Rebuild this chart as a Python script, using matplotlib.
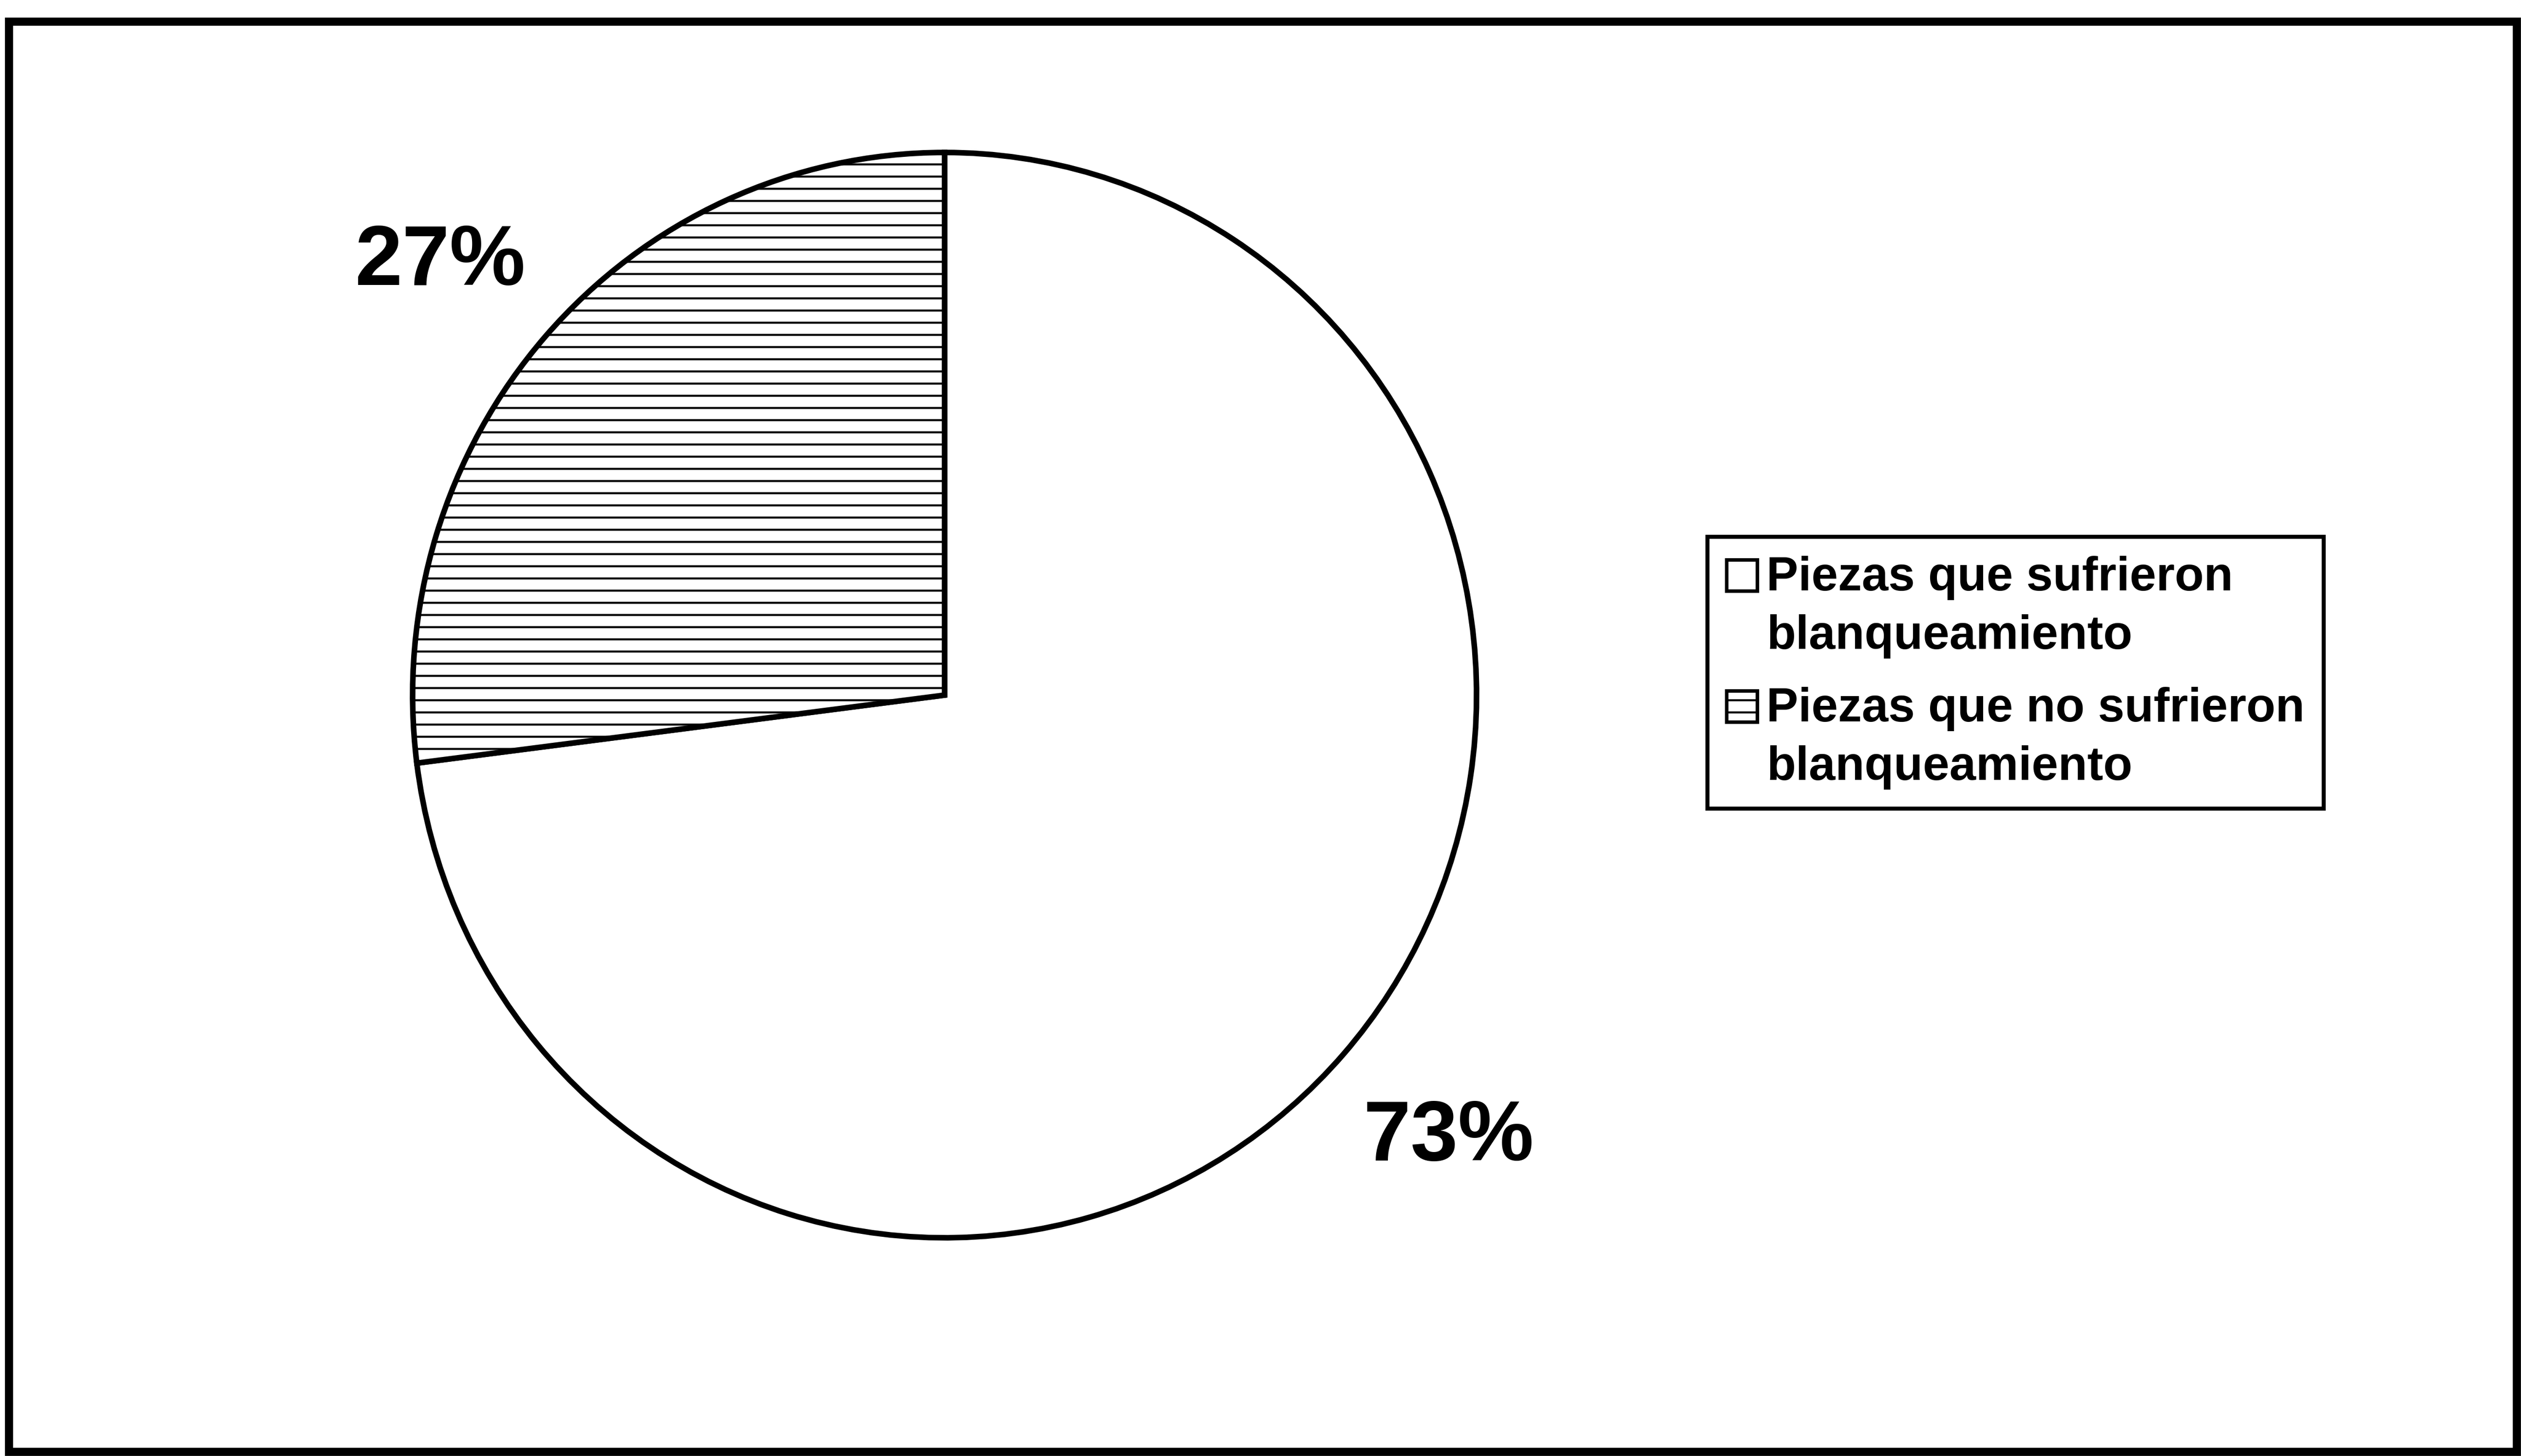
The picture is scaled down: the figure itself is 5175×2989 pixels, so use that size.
import matplotlib
matplotlib.use('Agg')
from matplotlib import pyplot as plt
from matplotlib.patches import Rectangle
from matplotlib.legend_handler import HandlerPatch

# datos del grafico
etiquetas = ['Piezas que sufrieron\nblanqueamiento',
             'Piezas que no sufrieron\nblanqueamiento']
porcentajes = [73, 27]
tramas = ['', '-']

plt.rcParams['font.family'] = ['Liberation Sans', 'DejaVu Sans']
plt.rcParams['font.weight'] = 'bold'
plt.rcParams['hatch.color'] = 'black'
plt.rcParams['hatch.linewidth'] = 2.0

W, H = 5175, 2989
dpi = 150
fig = plt.figure(figsize=(W / dpi, H / dpi), dpi=dpi)
fig.patch.set_facecolor('white')

# marco exterior
fig.add_artist(Rectangle((18 / W, 1 - 2980 / H), (5166 - 18) / W, (2980 - 44) / H,
                         transform=fig.transFigure, fill=False,
                         edgecolor='black', linewidth=8))

# ejes de la tarta (pixeles aproximados del original)
cx, cy, rx, ry = 1939, 1427, 1092, 1114
ax = fig.add_axes([(cx - rx) / W, 1 - (cy + ry) / H, 2 * rx / W, 2 * ry / H])

wedges, textos, pcts = ax.pie(porcentajes, startangle=90, counterclock=False,
                              colors=['white', 'white'],
                              wedgeprops=dict(edgecolor='black', linewidth=5.5),
                              autopct='%.0f%%', pctdistance=1.25,
                              textprops=dict(fontsize=84, fontweight='bold'))
for w, t in zip(wedges, tramas):
    w.set_hatch(t)

# pequenos ajustes de posicion de las etiquetas
x0, y0 = pcts[1].get_position()
pcts[1].set_position((x0 - 0.01, y0 - 0.03))
x0, y0 = pcts[0].get_position()
pcts[0].set_position((x0 + 0.01, y0 + 0.01))

ax.set_aspect('auto')
ax.set_xlim(-1, 1)
ax.set_ylim(-1, 1)
ax.axis('off')


# cuadro de leyenda alineado con la primera linea del texto
def caja_arriba(legend, orig_handle, xdescent, ydescent, width, height, fontsize):
    return Rectangle((-xdescent, -ydescent + 0.68 * fontsize), width, height)


fs_leg = 47
leg = fig.legend(wedges, etiquetas, loc='upper left',
                 bbox_to_anchor=(3505 / W, 1 - 1102 / H),
                 bbox_transform=fig.transFigure, borderaxespad=0,
                 fontsize=fs_leg, frameon=True, fancybox=False, shadow=False,
                 edgecolor='black', framealpha=1,
                 handlelength=0.64, handleheight=0.64, handletextpad=0.2,
                 labelspacing=0.6, borderpad=0.4,
                 handler_map={w: HandlerPatch(patch_func=caja_arriba) for w in wedges})
leg.get_frame().set_linewidth(4)
for t in leg.get_texts():
    t.set_fontweight('bold')
    t.set_linespacing(1.4)
for h in leg.legend_handles:
    h.set_linewidth(3.5)

plt.savefig('out.png', dpi=dpi)
